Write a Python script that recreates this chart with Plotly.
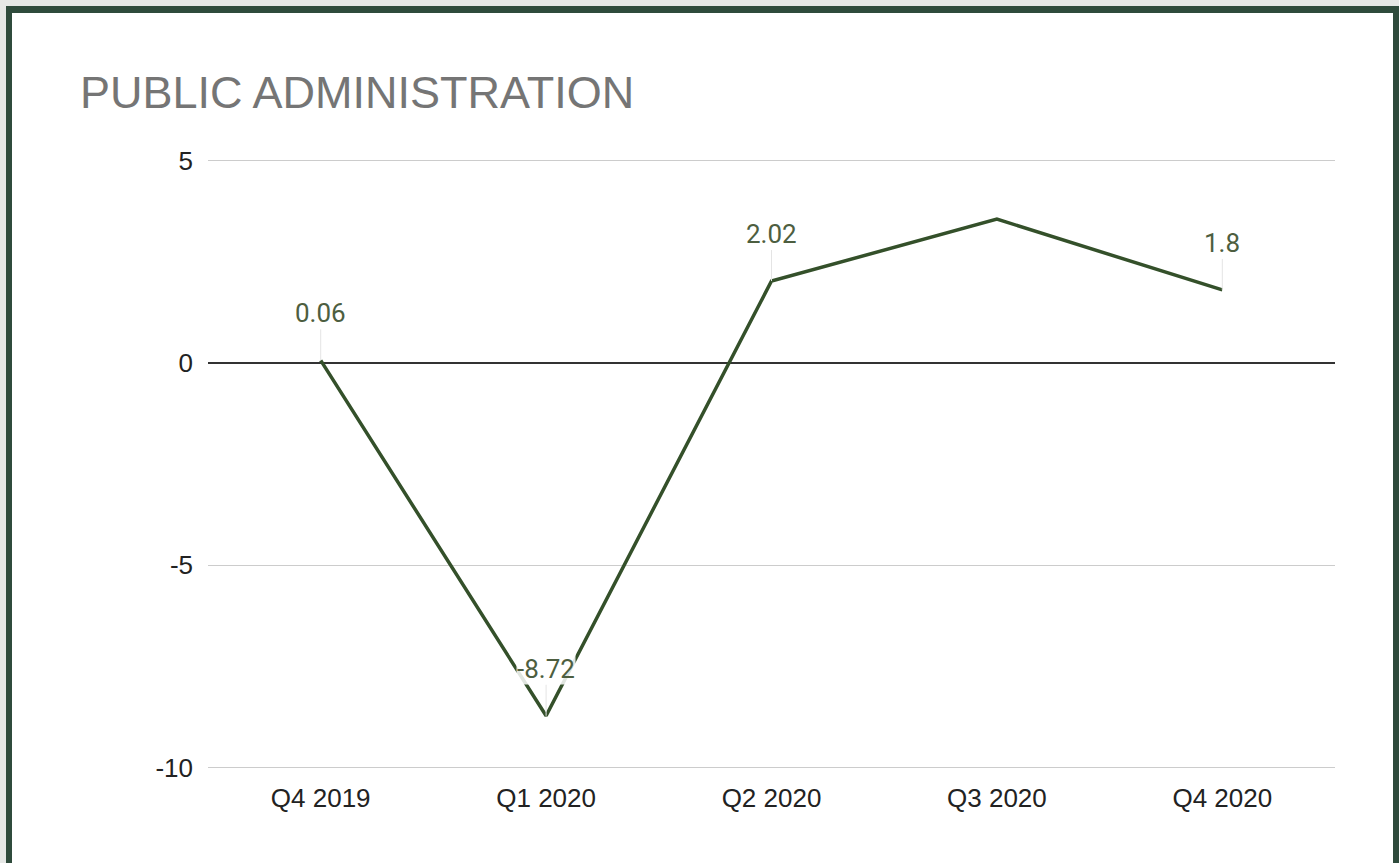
import plotly.graph_objects as go

# ---- data ----
quarters = ["Q4 2019", "Q1 2020", "Q2 2020", "Q3 2020", "Q4 2020"]
values = [0.06, -8.72, 2.02, 3.55, 1.8]
labels = ["0.06", "-8.72", "2.02", None, "1.8"]
y_ticks = [5, 0, -5, -10]

W, H = 1399, 863
L, R, T, B = 208, 64, 158, 93
PW, PH = W - L - R, H - T - B


def px(x, y):
    return (x - L) / PW, (H - B - y) / PH


fig = go.Figure()
fig.add_trace(go.Scatter(
    x=quarters, y=values, mode="lines",
    line=dict(color="#34502a", width=3.5),
    hoverinfo="skip", showlegend=False,
))

for q, v, lab in zip(quarters, values, labels):
    if lab is None:
        continue
    fig.add_annotation(
        x=q, y=v, text=lab, showarrow=True, arrowhead=0, arrowwidth=1,
        arrowcolor="#e4e4e4", ax=0, ay=-31, standoff=0,
        yanchor="bottom",
        font=dict(family="Roboto", size=26, color="#4d5e40"),
        bgcolor="rgba(255,255,255,0.85)", borderpad=0,
    )

# frame: green border on grey background
gx0, gy1 = px(6, 6)
gx1, gy0 = px(1420, 900)
wx0, wy1 = px(12, 13)
wx1, wy0 = px(1393, 900)
fig.add_shape(type="rect", xref="paper", yref="paper", x0=gx0, x1=gx1, y0=gy0, y1=gy1,
              fillcolor="#2f4b3c", line=dict(width=0), layer="below")
fig.add_shape(type="rect", xref="paper", yref="paper", x0=wx0, x1=wx1, y0=wy0, y1=wy1,
              fillcolor="white", line=dict(width=0), layer="below")

fig.update_layout(
    width=W, height=H,
    margin=dict(l=L, r=R, t=T, b=B),
    paper_bgcolor="#e6e8e6", plot_bgcolor="white",
    title=dict(text="PUBLIC ADMINISTRATION", xref="container", yref="container",
               x=80 / W, xanchor="left", y=1 - 92 / H, yanchor="middle",
               font=dict(family="Liberation Sans", size=45, color="#757575")),
    xaxis=dict(range=[-0.5, 4.5], showgrid=False, zeroline=False, showline=False,
               ticks="", ticklabelstandoff=10,
               tickfont=dict(family="Liberation Sans", size=26, color="#222222")),
    yaxis=dict(range=[-10.06, 5.06], tickvals=y_ticks, ticktext=[str(t) for t in y_ticks],
               showgrid=True, gridcolor="#cccccc", gridwidth=1,
               zeroline=True, zerolinecolor="#333333", zerolinewidth=1.5,
               showline=False, ticks="", ticklabelstandoff=14,
               tickfont=dict(family="Liberation Sans", size=26, color="#222222")),
)

fig.write_html("out.html", config={"displayModeBar": False},
               post_script="document.body.style.margin='0';document.body.style.overflow='hidden';")
